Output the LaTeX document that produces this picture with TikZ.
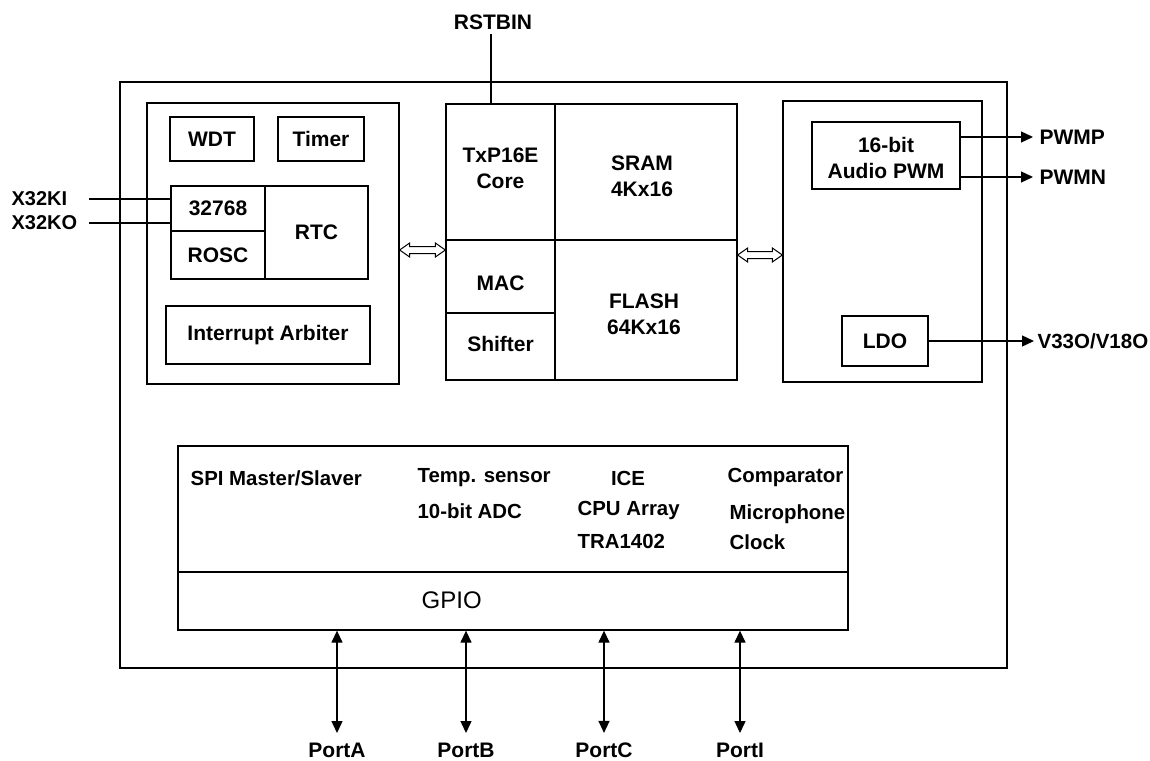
\documentclass[tikz,border=0pt]{standalone}
\usepackage{fontspec}
\setmainfont{Liberation Sans}
\usetikzlibrary{arrows.meta,calc}
\newcommand\hollowdbl[2]{%
  \draw[line width=1pt,fill=white] (#1) -- ($(#1)+(10,-7)$) -- ($(#1)+(10,-3.5)$) -- ($(#2)+(-10,-3.5)$) -- ($(#2)+(-10,-7)$) -- (#2) -- ($(#2)+(-10,7)$) -- ($(#2)+(-10,3.5)$) -- ($(#1)+(10,3.5)$) -- ($(#1)+(10,7)$) -- cycle;}
\begin{document}
\begin{tikzpicture}[x=1pt,y=-1pt,
  line width=1.3pt,
  every node/.style={font=\fontsize{21}{26}\selectfont\bfseries},
  blk/.style={draw,inner sep=0pt,align=center},
  lbl/.style={inner sep=0pt,align=center},
  btxt/.style={inner sep=0pt,anchor=west,font=\fontsize{20.4}{26}\selectfont\bfseries},
  sig/.style={-{Triangle[length=12pt,width=11pt]}},
  port/.style={{Triangle[length=12pt,width=11pt]}-{Triangle[length=12pt,width=11pt]}}]
\useasboundingbox (0,0) rectangle (1150,760);
% outer chip
\node[blk,minimum width=887,minimum height=586] (outer) at (563.5,375) {};
% left block
\node[blk,minimum width=252,minimum height=281] (left) at (273,243.5) {};
\node[blk,minimum width=84,minimum height=44] (wdt) at (212,139) {WDT};
\node[blk,minimum width=86,minimum height=44] (timer) at (321,139) {Timer};
\node[blk,minimum width=94,minimum height=45] (osc) at (218,208.5) {32768};
\node[blk,minimum width=94,minimum height=48] (rosc) at (218,255) {ROSC};
\node[blk,minimum width=103,minimum height=93] (rtc) at (316.5,232.5) {RTC};
\node[blk,minimum width=204,minimum height=58] (irq) at (268,335) {Interrupt Arbiter};
% centre block
\node[blk,minimum width=109,minimum height=136] (core) at (500.5,172) {};
\node[lbl] (coret) at ($(core)+(0,-4)$) {TxP16E\\Core};
\node[blk,minimum width=182,minimum height=136] (sram) at (646,172) {};
\node[lbl] (sramt) at ($(sram)+(-4,4)$) {SRAM\\4Kx16};
\node[blk,minimum width=109,minimum height=73] (mac) at (500.5,276.5) {};
\node[lbl] (mact) at ($(mac)+(0,7)$) {MAC};
\node[blk,minimum width=109,minimum height=67] (shift) at (500.5,346.5) {};
\node[lbl] (shiftt) at ($(shift)+(0,-3)$) {Shifter};
\node[blk,minimum width=182,minimum height=140] (flash) at (646,310) {};
\node[lbl] (flasht) at ($(flash)+(-2,4)$) {FLASH\\64Kx16};
% right block
\node[blk,minimum width=199,minimum height=281] (right) at (882.5,241.5) {};
\node[blk,minimum width=148,minimum height=67] (pwm) at (886,155.5) {};
\node[lbl] (pwmt) at ($(pwm)+(0,2)$) {16-bit\\Audio PWM};
\node[blk,minimum width=86,minimum height=50] (ldo) at (885,341) {LDO};
% bottom block
\node[blk,minimum width=670,minimum height=126] (periph) at (513,509) {};
\node[blk,minimum width=670,minimum height=58] (gpio) at (513,601) {};
\node[btxt] (spi) at (190,478) {SPI Master/Slaver};
\node[btxt] (temp) at (417,478) {Temp. sensor};
\node[btxt] (adc) at (417,511) {10-bit ADC};
\node[btxt,anchor=center] (ice) at (628,478) {ICE};
\node[btxt] (cpu) at (577,510) {CPU Array};
\node[btxt] (tra) at (577,541) {TRA1402};
\node[btxt] (cmp) at (727,477) {Comparator};
\node[btxt] (mic) at (729,514) {Microphone};
\node[btxt] (clk) at (729,542) {Clock};
\node[btxt,font=\fontsize{24}{26}\selectfont] (gpiot) at (421,600) {GPIO};
% external labels
\node[lbl] (rst) at (493,22) {RSTBIN};
\node[lbl,anchor=west,font=\fontsize{20}{24}\selectfont\bfseries] (xi) at (11,199) {X32KI};
\node[lbl,anchor=west,font=\fontsize{20}{24}\selectfont\bfseries] (xo) at (11,223) {X32KO};
\node[lbl,anchor=west] (pwmp) at (1039,137) {PWMP};
\node[lbl,anchor=west] (pwmn) at (1039,177) {PWMN};
\node[lbl,anchor=west,font=\fontsize{20.5}{24}\selectfont\bfseries] (vout) at (1037,341) {V33O/V18O};
\node[lbl] (pa) at (337,750) {PortA};
\node[lbl] (pb) at (466,750) {PortB};
\node[lbl] (pc) at (604,750) {PortC};
\node[lbl] (pi) at (740,750) {PortI};
% connectors
\draw (rst.south) ++(-2,4) coordinate (rs) -- (rs |- core.north);
\coordinate (xl) at ($(xo.east)+(11,0)$);
\draw (xl |- xi.east) -- (xi.east -| osc.west);
\draw (xl) -- (xo.east -| osc.west);
\draw[sig] (pwmp.west -| pwm.east) -- ($(pwmp.west)+(-6,0)$);
\draw[sig] (pwmn.west -| pwm.east) -- ($(pwmn.west)+(-6,0)$);
\draw[sig] (vout.west -| ldo.east) -- ($(vout.west)+(-3,0)$);
\foreach \p in {pa,pb,pc,pi}{
  \draw[port] ($(\p.north)+(0,-9)$) -- (\p.north |- gpio.south);
}
\coordinate (la) at ($(left.east)+(0,6.5)$);
\coordinate (lb) at (la -| core.west);
\hollowdbl{la}{lb}
\coordinate (ra) at ($(right.west)+(0,13.5)$);
\coordinate (rb) at (ra -| flash.east);
\hollowdbl{rb}{ra}
\end{tikzpicture}
\end{document}
